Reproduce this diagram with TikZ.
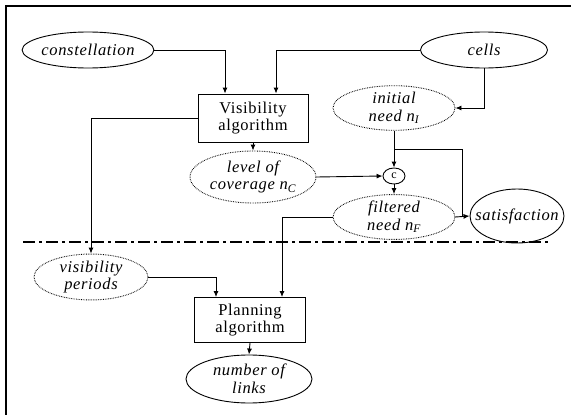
\documentclass[tikz,border=0pt]{standalone}
\usepackage{fontspec}
\setmainfont{Liberation Serif}[LetterSpace=4]
\usetikzlibrary{shapes.geometric,arrows.meta,calc}
\begin{document}
\begin{tikzpicture}[x=1pt,y=-1pt,
  lbl/.style={font=\fontsize{16.5}{17}\selectfont},
  stepbox/.style={draw, line width=0.9pt, inner sep=0, align=center, lbl},
  oval/.style={ellipse, draw, line width=0.9pt, inner sep=0, align=center, font=\fontsize{16.5}{17.5}\selectfont\itshape},
  dotoval/.style={oval, dash pattern=on 0.7pt off 1pt},
  arr/.style={-{Latex[length=6pt,width=5pt]}, line width=0.9pt},
  ln/.style={line width=0.9pt}]
\useasboundingbox (0,0) rectangle (571,415);
\draw[line width=2.5pt] (6,415) -- (6,6) -- (571,6);

\node[oval, minimum width=126, minimum height=36] (const) at (88,50) {constellation};
\node[oval, minimum width=127, minimum height=36] (cells) at (484,50) {cells};
\node[stepbox, minimum width=110, minimum height=48] (vis) at (253,118) {Visibility\\algorithm};
\node[dotoval, minimum width=126, minimum height=52] (cov) at (253,177) {level of\\coverage \textit{n}\textsubscript{\textit{C}}};
\node[dotoval, minimum width=122, minimum height=40] (init) at (394,108) {initial\\need \textit{n}\textsubscript{\textit{I}}};
\node[ellipse, draw, line width=0.9pt, inner sep=0, minimum width=22, minimum height=16, font=\fontsize{12}{12}\selectfont] (c) at (394,176) {c};
\node[dotoval, minimum width=122, minimum height=42] (filt) at (394,217) {filtered\\need \textit{n}\textsubscript{\textit{F}}};
\node[oval, inner xsep=-9pt, minimum width=94, minimum height=54] (sat) at (517,216) {satisfaction};
\node[dotoval, minimum width=114, minimum height=44] (visp) at (91,277) {visibility\\periods};
\node[stepbox, minimum width=111, minimum height=45] (plan) at (250,320) {Planning\\algorithm};
\node[oval, minimum width=126, minimum height=48] (links) at (249,379) {number of\\links};

\coordinate (br) at ($(init.south)!0.5!(c.north)$);
\coordinate (j) at ([xshift=7]filt.east);

\draw[arr] (const.east) -| ([xshift=-28]vis.north);
\draw[arr] (cells.west) -| ([xshift=23]vis.north);
\draw[arr] (vis.west) -| (visp.north);
\draw[arr] (vis.south) -- (cov.north);
\draw[arr] (cells.south) |- (init.east);
\draw[arr] (init.south) -- (c.north);
\draw[arr] (cov.east) -- (c.west);
\draw[arr] (c.south) -- (filt.north);
\draw[ln] (br) -| (j);
\draw[arr] (filt.east) -- (sat.west);
\draw[arr] (filt.west) -| ([xshift=32]plan.north);
\draw[arr] (visp.east) -| ([xshift=-34]plan.north);
\draw[arr] (plan.south) -- (links.north);

\coordinate (dl) at (23,242);
\coordinate (dr) at (550,242);
\draw[line width=2pt, dash pattern=on 12pt off 4pt on 3pt off 4pt] (dl) -- (dr);
\end{tikzpicture}
\end{document}
